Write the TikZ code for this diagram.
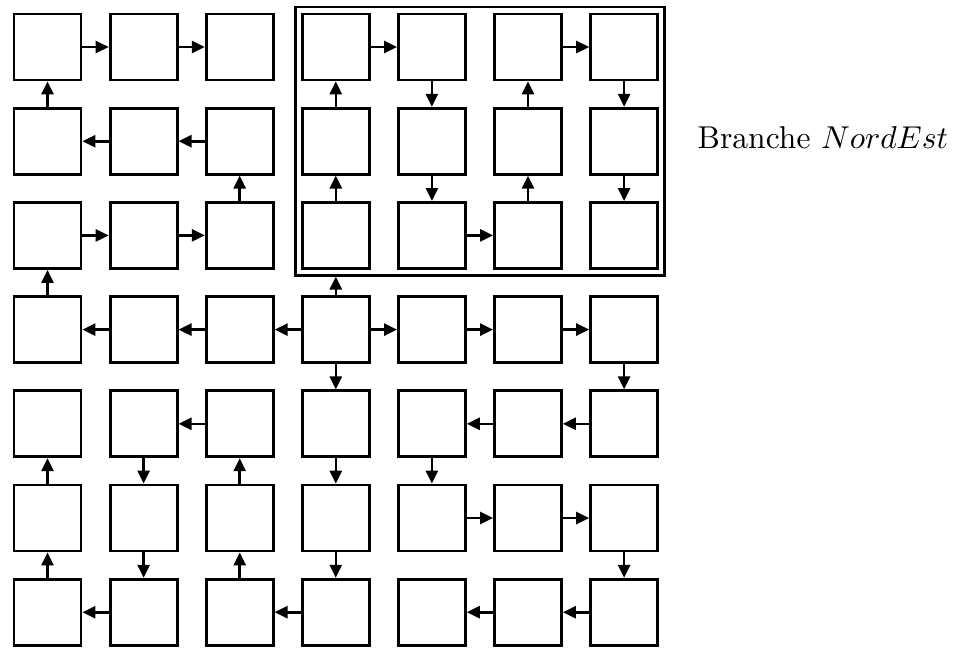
\documentclass[tikz,border=0pt]{standalone}
\usetikzlibrary{arrows.meta,fit}
\begin{document}
\begin{tikzpicture}[x=1pt,y=-1pt,
  cell/.style={draw, line width=2.8pt, minimum width=67pt, minimum height=66pt, inner sep=0pt},
  arr/.style={line width=2.6pt, -{Triangle[length=13pt,width=12pt]}},
  branchframe/.style={draw, line width=2.6pt, inner sep=5.5pt}]
\useasboundingbox (0,0) rectangle (965,648);
\foreach \r in {1,...,7}{
  \foreach \c in {1,...,7}{
    \node[cell] (b\r\c) at ({47.5+96.1*(\c-1)},{47+94.2*(\r-1)}) {};
  }
}
\node[branchframe, fit=(b14)(b37)] (frame) {};
\node[anchor=base west, scale=3.16, inner sep=0pt] (label) at (697,148) {Branche $NordEst$};
% row 1
\draw[arr] (b11) -- (b12);
\draw[arr] (b12) -- (b13);
\draw[arr] (b14) -- (b15);
\draw[arr] (b16) -- (b17);
% rows 1-2
\draw[arr] (b21) -- (b11);
\draw[arr] (b24) -- (b14);
\draw[arr] (b15) -- (b25);
\draw[arr] (b26) -- (b16);
\draw[arr] (b17) -- (b27);
% row 2
\draw[arr] (b22) -- (b21);
\draw[arr] (b23) -- (b22);
% rows 2-3
\draw[arr] (b33) -- (b23);
\draw[arr] (b34) -- (b24);
\draw[arr] (b25) -- (b35);
\draw[arr] (b36) -- (b26);
\draw[arr] (b27) -- (b37);
% row 3
\draw[arr] (b31) -- (b32);
\draw[arr] (b32) -- (b33);
\draw[arr] (b35) -- (b36);
% rows 3-4
\draw[arr] (b41) -- (b31);
\draw[arr] (b44.north) -- (b44.north |- frame.south);
% row 4
\draw[arr] (b42) -- (b41);
\draw[arr] (b43) -- (b42);
\draw[arr] (b44) -- (b43);
\draw[arr] (b44) -- (b45);
\draw[arr] (b45) -- (b46);
\draw[arr] (b46) -- (b47);
% rows 4-5
\draw[arr] (b44) -- (b54);
\draw[arr] (b47) -- (b57);
% row 5
\draw[arr] (b53) -- (b52);
\draw[arr] (b56) -- (b55);
\draw[arr] (b57) -- (b56);
% rows 5-6
\draw[arr] (b61) -- (b51);
\draw[arr] (b52) -- (b62);
\draw[arr] (b63) -- (b53);
\draw[arr] (b54) -- (b64);
\draw[arr] (b55) -- (b65);
% row 6
\draw[arr] (b65) -- (b66);
\draw[arr] (b66) -- (b67);
% rows 6-7
\draw[arr] (b71) -- (b61);
\draw[arr] (b62) -- (b72);
\draw[arr] (b73) -- (b63);
\draw[arr] (b64) -- (b74);
\draw[arr] (b67) -- (b77);
% row 7
\draw[arr] (b72) -- (b71);
\draw[arr] (b74) -- (b73);
\draw[arr] (b76) -- (b75);
\draw[arr] (b77) -- (b76);
\end{tikzpicture}
\end{document}
